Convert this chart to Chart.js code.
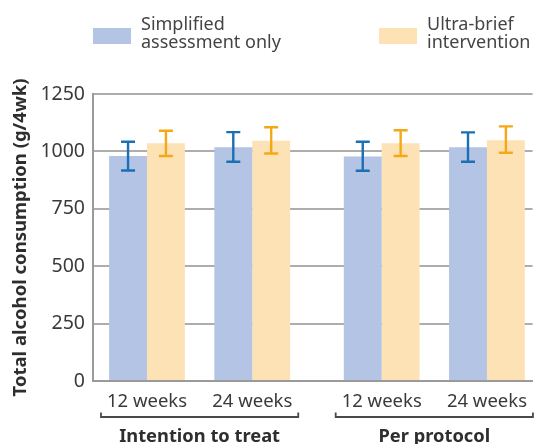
<!DOCTYPE html>
<html>
<head>
<meta charset="utf-8">
<script src="https://cdn.jsdelivr.net/npm/chart.js@4"></script>
<style>
  html, body { margin: 0; padding: 0; background: #fff; }
  canvas { display: block; }
</style>
</head>
<body>
<canvas id="chart" width="537" height="444"></canvas>
<script>
// Analysis groups and time points (one bar pair per time point)
const groups = ['Intention to treat', 'Per protocol'];
const timepoints = ['12 weeks', '24 weeks'];
const seriesNames = [['Simplified', 'assessment only'], ['Ultra-brief', 'intervention']];

// Mean total alcohol consumption (g/4wk) with lower/upper error bounds,
// ordered: ITT 12wk, ITT 24wk, PP 12wk, PP 24wk
const assessmentMean = [980, 1018, 978, 1018];
const assessmentLow  = [917, 955, 916, 955];
const assessmentHigh = [1042, 1084, 1042, 1083];
const briefMean = [1035, 1046, 1035, 1049];
const briefLow  = [980, 991, 980, 994];
const briefHigh = [1090, 1105, 1092, 1109];

const yTicks = [0, 250, 500, 750, 1000, 1250];

const FONT = '"Noto Sans", "Open Sans", sans-serif';
const TEXT = '#3a3a3a';
const GROUP_GAP = 0.23;   // extra space between the two analysis groups (in category units)

const categoryLabels = [];
groups.forEach(() => timepoints.forEach(t => categoryLabels.push(t)));
const xPos = i => i + Math.floor(i / timepoints.length) * GROUP_GAP;
const positions = categoryLabels.map((_, i) => xPos(i));
const points = arr => arr.map((v, i) => ({ x: xPos(i), y: v }));

const errorBars = {
  id: 'errorBars',
  afterDraw(chart) {
    const { ctx } = chart;
    const y = chart.scales.y;
    chart.data.datasets.forEach((ds, di) => {
      const meta = chart.getDatasetMeta(di);
      ctx.save();
      ctx.strokeStyle = ds.errorColor;
      ctx.lineWidth = 2.4;
      meta.data.forEach((bar, j) => {
        const yl = y.getPixelForValue(ds.errorLow[j]);
        const yh = y.getPixelForValue(ds.errorHigh[j]);
        const x = bar.x, cap = 7;
        ctx.beginPath();
        ctx.moveTo(x, yl); ctx.lineTo(x, yh);
        ctx.moveTo(x - cap, yl); ctx.lineTo(x + cap, yl);
        ctx.moveTo(x - cap, yh); ctx.lineTo(x + cap, yh);
        ctx.stroke();
      });
      ctx.restore();
    });
  }
};

const topLegend = {
  id: 'topLegend',
  afterDraw(chart, args, opts) {
    const { ctx } = chart;
    ctx.save();
    ctx.font = `${opts.size}px ${FONT}`;
    ctx.textBaseline = 'alphabetic';
    ctx.textAlign = 'left';
    chart.data.datasets.forEach((ds, i) => {
      const x0 = opts.x[i];
      ctx.fillStyle = ds.backgroundColor;
      ctx.fillRect(x0, opts.boxTop, opts.boxW, opts.boxH);
      ctx.fillStyle = opts.color;
      ds.label.forEach((line, k) => {
        ctx.fillText(line, x0 + opts.boxW + opts.gap, opts.firstBaseline + k * opts.lineGap);
      });
    });
    ctx.restore();
  }
};

const groupBrackets = {
  id: 'groupBrackets',
  afterDraw(chart, args, opts) {
    const { ctx } = chart;
    const xs = chart.scales.x;
    ctx.save();
    ctx.strokeStyle = opts.lineColor;
    ctx.lineWidth = 1.8;
    ctx.font = `bold ${opts.size}px ${FONT}`;
    ctx.fillStyle = opts.color;
    ctx.textAlign = 'center';
    ctx.textBaseline = 'alphabetic';
    groups.forEach((g, gi) => {
      const first = gi * timepoints.length;
      const last = first + timepoints.length - 1;
      const x1 = xs.getPixelForValue(xPos(first)) - opts.overhang;
      const x2 = xs.getPixelForValue(xPos(last)) + opts.overhang;
      ctx.beginPath();
      ctx.moveTo(x1, opts.y - opts.tick);
      ctx.lineTo(x1, opts.y);
      ctx.lineTo(x2, opts.y);
      ctx.lineTo(x2, opts.y - opts.tick);
      ctx.stroke();
      ctx.fillText(g, (x1 + x2) / 2, opts.labelBaseline);
    });
    ctx.restore();
  }
};

new Chart(document.getElementById('chart'), {
  type: 'bar',
  data: {
    datasets: [
      {
        label: seriesNames[0],
        data: points(assessmentMean),
        errorLow: assessmentLow,
        errorHigh: assessmentHigh,
        backgroundColor: '#b4c4e4',
        errorColor: '#1a6fb5'
      },
      {
        label: seriesNames[1],
        data: points(briefMean),
        errorLow: briefLow,
        errorHigh: briefHigh,
        backgroundColor: '#fde2b6',
        errorColor: '#f5a815'
      }
    ]
  },
  options: {
    responsive: false,
    animation: false,
    devicePixelRatio: 1,
    categoryPercentage: 0.72,
    barPercentage: 1.0,
    layout: { padding: { top: 94, right: 0, bottom: 0, left: 0 } },
    plugins: {
      legend: { display: false },
      tooltip: { enabled: false },
      topLegend: { x: [93, 379], boxTop: 28, boxW: 38, boxH: 16, gap: 10, size: 18, firstBaseline: 30, lineGap: 17.8, color: '#444' },
      groupBrackets: { overhang: 46, y: 417, tick: 4.5, size: 18.3, labelBaseline: 442, color: '#2e2e2e', lineColor: '#4a4a4a' }
    },
    scales: {
      x: {
        type: 'linear',
        offset: false,
        min: -0.513,
        max: 3.664,
        afterFit: s => { s.height = 63; },
        afterBuildTicks: s => { s.ticks = positions.map(v => ({ value: v })); },
        grid: { display: false, drawTicks: false },
        border: { display: true, color: '#9a9a9a', width: 2 },
        ticks: {
          autoSkip: false,
          maxRotation: 0,
          padding: 10,
          color: TEXT,
          font: { family: FONT, size: 18.5 },
          callback: (v, i) => categoryLabels[i]
        }
      },
      y: {
        min: 0,
        max: 1250,
        z: 1,
        afterFit: s => { s.width = 93; },
        afterBuildTicks: s => { s.ticks = yTicks.map(v => ({ value: v })); },
        grid: { color: 'rgba(0,0,0,0.32)', lineWidth: 2, drawTicks: false },
        border: { display: true, color: '#9a9a9a', width: 2 },
        ticks: {
          padding: 8,
          color: TEXT,
          font: { family: FONT, size: 19.5 },
          callback: v => String(v)
        },
        title: {
          display: true,
          text: 'Total alcohol consumption (g/4wk)',
          color: '#2e2e2e',
          font: { family: FONT, size: 18.5, weight: 'bold' },
          padding: { top: 10, bottom: 0 }
        }
      }
    }
  },
  plugins: [errorBars, topLegend, groupBrackets]
});
</script>
</body>
</html>
